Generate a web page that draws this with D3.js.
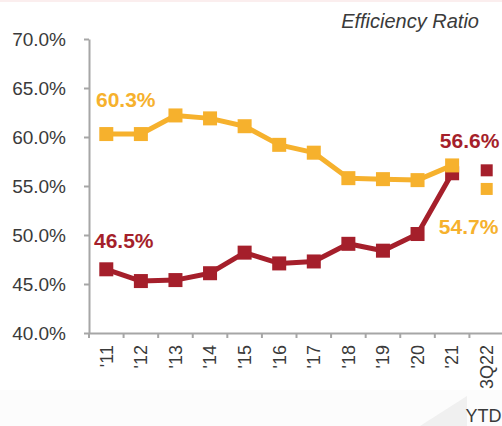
<!DOCTYPE html>
<html>
<head>
<meta charset="utf-8">
<script src="https://cdn.jsdelivr.net/npm/d3@7"></script>
<style>
  html, body { margin: 0; padding: 0; background: #fff; }
  svg { display: block; font-family: "Liberation Sans", Arial, sans-serif; }
</style>
</head>
<body>
<svg id="chart" width="502" height="426"></svg>
<script>
// categories along the x axis
const years = ["'11", "'12", "'13", "'14", "'15", "'16", "'17", "'18", "'19", "'20", "'21", "3Q22"];
// yearly series (connected lines)
const goldValues = [60.3, 60.3, 62.2, 61.9, 61.1, 59.2, 58.4, 55.8, 55.7, 55.6, 57.1];
const redValues = [46.5, 45.3, 45.4, 46.1, 48.2, 47.1, 47.3, 49.1, 48.4, 50.1, 56.3];
// YTD markers, drawn on their own
const goldYtd = 54.7;
const redYtd = 56.6;
const yTicks = [40, 45, 50, 55, 60, 65, 70];

const gold = '#f6b12d',
    red = '#a51f2b',
    axisGrey = '#a6a6a6',
    font = '"Liberation Sans", Arial, sans-serif';

const svg = d3.select('#chart');
const margin = { left: 89, right: -2, top: 39, bottom: 93 };
const width = 502, height = 426;

const x = d3.scaleBand()
    .domain(years)
    .range([margin.left, width - margin.right]);

const y = d3.scaleLinear()
    .domain([40, 70])
    .range([height - margin.bottom, margin.top]);

// faint slide decoration bottom right
svg.append('rect')
    .attr('x', 0).attr('y', 390)
    .attr('width', width).attr('height', 36)
    .attr('fill', '#fcfcfc');
svg.append('path')
    .attr('d', 'M420,426 L467,396 L467,426 Z')
    .attr('fill', '#f0f0f0');
svg.append('rect')
    .attr('x', 0).attr('y', 0)
    .attr('width', width).attr('height', 2)
    .attr('fill', '#fbeeee');

// title
svg.append('text')
    .attr('x', 479)
    .attr('y', 28)
    .attr('text-anchor', 'end')
    .attr('font-style', 'italic')
    .attr('font-size', 20)
    .attr('fill', '#3a3a3a')
    .text('Efficiency Ratio');

// y axis
const yAxis = svg.append('g')
    .attr('transform', 'translate(' + margin.left + ',0)')
    .call(d3.axisLeft(y)
        .tickValues(yTicks)
        .tickSize(5)
        .tickSizeOuter(0)
        .tickPadding(18)
        .tickFormat(function(d) { return d3.format('.1f')(d) + '%'; }));

// x axis
const xAxis = svg.append('g')
    .attr('transform', 'translate(0,' + y(40) + ')')
    .call(d3.axisBottom(x)
        .tickSize(5)
        .tickSizeOuter(0)
        .tickFormat(function(d) { return d; }));

// band edges as ticks, like the original
xAxis.selectAll('.tick line')
    .attr('x1', -x.bandwidth() / 2)
    .attr('x2', -x.bandwidth() / 2);

xAxis.selectAll('.tick text')
    .attr('transform', 'rotate(-90)')
    .attr('text-anchor', 'end')
    .attr('dy', '0.35em')
    .attr('x', -12)
    .attr('y', 0);

[yAxis, xAxis].forEach(function(g) {
    g.attr('font-family', font);
    g.select('.domain').attr('stroke', axisGrey).attr('stroke-width', 2);
    g.selectAll('.tick line').attr('stroke', axisGrey).attr('stroke-width', 2);
    g.selectAll('.tick text').attr('fill', '#3a3a3a');
});
yAxis.attr('font-size', 19);
xAxis.attr('font-size', 18);

// second line of the last category
svg.append('text')
    .attr('x', x('3Q22') - 4)
    .attr('y', 422)
    .attr('font-size', 18)
    .attr('fill', '#3a3a3a')
    .text('YTD');

const cx = function(i) { return x(years[i]) + x.bandwidth() / 2; };

const line = d3.line()
    .x(function(d, i) { return cx(i); })
    .y(function(d) { return y(d); });

const ms = 14;

function drawSeries(values, color) {
    svg.append('path')
        .datum(values)
        .attr('d', line)
        .attr('fill', 'none')
        .attr('stroke', color)
        .attr('stroke-width', 5)
        .attr('stroke-linejoin', 'round');

    svg.append('g')
        .selectAll('rect')
        .data(values)
        .join('rect')
        .attr('x', function(d, i) { return cx(i) - ms / 2; })
        .attr('y', function(d) { return y(d) - ms / 2; })
        .attr('width', ms)
        .attr('height', ms)
        .attr('fill', color);
}

drawSeries(redValues, red);
drawSeries(goldValues, gold);

// YTD markers
const ytdX = x('3Q22') + x.bandwidth() / 2;
[[redYtd, red], [goldYtd, gold]].forEach(function(p) {
    svg.append('rect')
        .attr('x', ytdX - 6)
        .attr('y', y(p[0]) - 6)
        .attr('width', 12)
        .attr('height', 12)
        .attr('fill', p[1]);
});

// value labels
function label(text, lx, ly, color) {
    svg.append('text')
        .attr('x', lx)
        .attr('y', ly)
        .attr('font-size', 21)
        .attr('font-weight', 'bold')
        .attr('fill', color)
        .text(text);
}

label(goldValues[0].toFixed(1) + '%', x(years[0]) + 7, y(goldValues[0]) - 27, gold);
label(redValues[0].toFixed(1) + '%', x(years[0]) + 5, y(redValues[0]) - 21, red);
label(redYtd.toFixed(1) + '%', x(years[10]) + 5, y(redYtd) - 22, red);
label(goldYtd.toFixed(1) + '%', x(years[10]) + 4, y(goldYtd) + 45, gold);
</script>
</body>
</html>
